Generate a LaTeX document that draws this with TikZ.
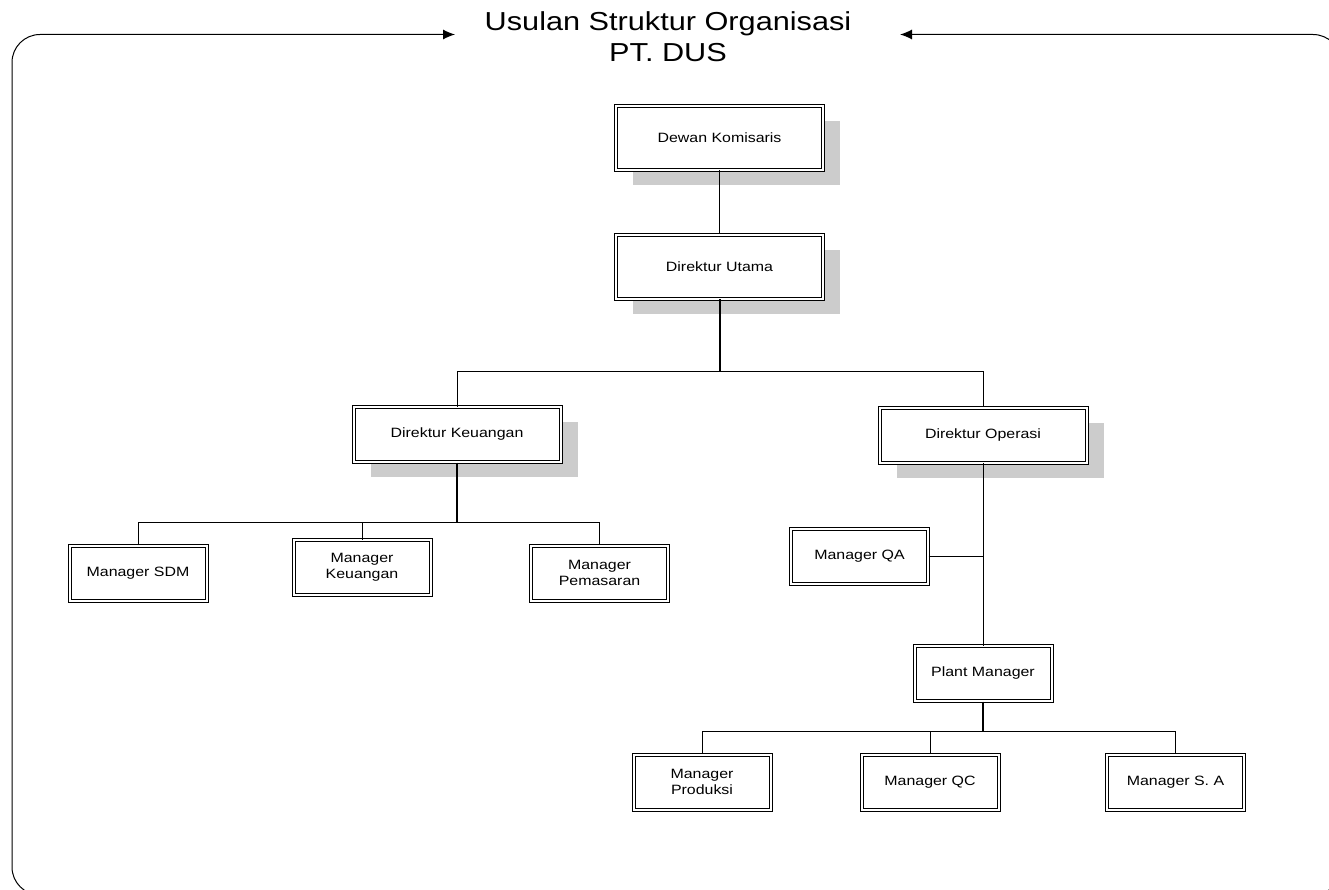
\documentclass[tikz,border=0pt]{standalone}
\usepackage{fontspec}
\setmainfont{Liberation Sans}[FakeStretch=1.18]
\usetikzlibrary{arrows.meta,shadows}

\begin{document}
\begin{tikzpicture}[x=1pt, y=-1pt,
        jabatan/.style={rectangle, draw=black, line width=1pt, double, double distance=2pt, fill=white, minimum width=137pt, minimum height=55pt, align=center, inner sep=2pt, font=\fontsize{13.5}{15.5}\selectfont},
        direksi/.style={jabatan, minimum width=207pt, drop shadow={shadow xshift=17pt, shadow yshift=-15pt, fill=black!20, opacity=1}},
        garis/.style={line width=1pt},
        garistebal/.style={line width=2pt}
    ]
        \useasboundingbox (0,0) rectangle (1329,890);
        \clip (0,0) rectangle (1329,890);

        % Judul
        \node[font=\fontsize{26}{31}\selectfont, align=center] (judul) at (668,37) {Usulan Struktur Organisasi\\PT. DUS};
        \coordinate (ujungkiri) at (455,34.5);
        \coordinate (ujungkanan) at (900,34.5);

        % Bingkai
        \draw[garis, rounded corners=28pt, -{Latex[length=12pt,width=10pt]}] (680,895) -- (12,895) -- (12,34.5) -- (ujungkiri);
        \draw[garis, rounded corners=28pt, -{Latex[length=12pt,width=10pt]}] (680,895) -- (1341,895) -- (1341,34.5) -- (ujungkanan);

        % Direksi
        \node[direksi, minimum height=64pt] (dewan) at (719.5,138) {Dewan Komisaris};
        \node[direksi, minimum height=64pt] (utama) at (719.5,267) {Direktur Utama};
        \node[direksi] (keu) at (457,434.5) {Direktur Keuangan};
        \node[direksi] (ops) at (983,435) {Direktur Operasi};

        % Manager
        \node[jabatan] (sdm) at (138,573) {Manager SDM};
        \node[jabatan] (mkeu) at (362,567.5) {Manager\\Keuangan};
        \node[jabatan] (pem) at (599.5,573) {Manager\\Pemasaran};
        \node[jabatan] (qa) at (859.5,556.5) {Manager QA};
        \node[jabatan] (plant) at (983,673.5) {Plant Manager};
        \node[jabatan] (prod) at (702,782) {Manager\\Produksi};
        \node[jabatan] (qc) at (930,782) {Manager QC};
        \node[jabatan] (sa) at (1175.5,782) {Manager S. A};

        % Garis komando
        \draw[garis] (dewan) -- (utama);
        \coordinate (cabang1) at (719.5,371);
        \draw[garistebal] (utama.south) -- (cabang1);
        \draw[garis] (keu.north) -- (keu.north |- cabang1) -- (ops.north |- cabang1) -- (ops.north);

        \coordinate (cabang2) at (457,522);
        \draw[garistebal] (keu.south) -- (cabang2);
        \draw[garis] (sdm.north) -- (sdm.north |- cabang2) -- (pem.north |- cabang2) -- (pem.north);
        \draw[garis] (mkeu.north) -- (mkeu.north |- cabang2);

        \draw[garis] (ops.south) -- (plant.north);
        \draw[garis] (qa.east) -- (qa.east -| ops.south);

        \coordinate (cabang3) at (983,731);
        \draw[garistebal] (plant.south) -- (cabang3);
        \draw[garis] (prod.north) -- (prod.north |- cabang3) -- (sa.north |- cabang3) -- (sa.north);
        \draw[garis] (qc.north) -- (qc.north |- cabang3);
    \end{tikzpicture}
\end{document}
